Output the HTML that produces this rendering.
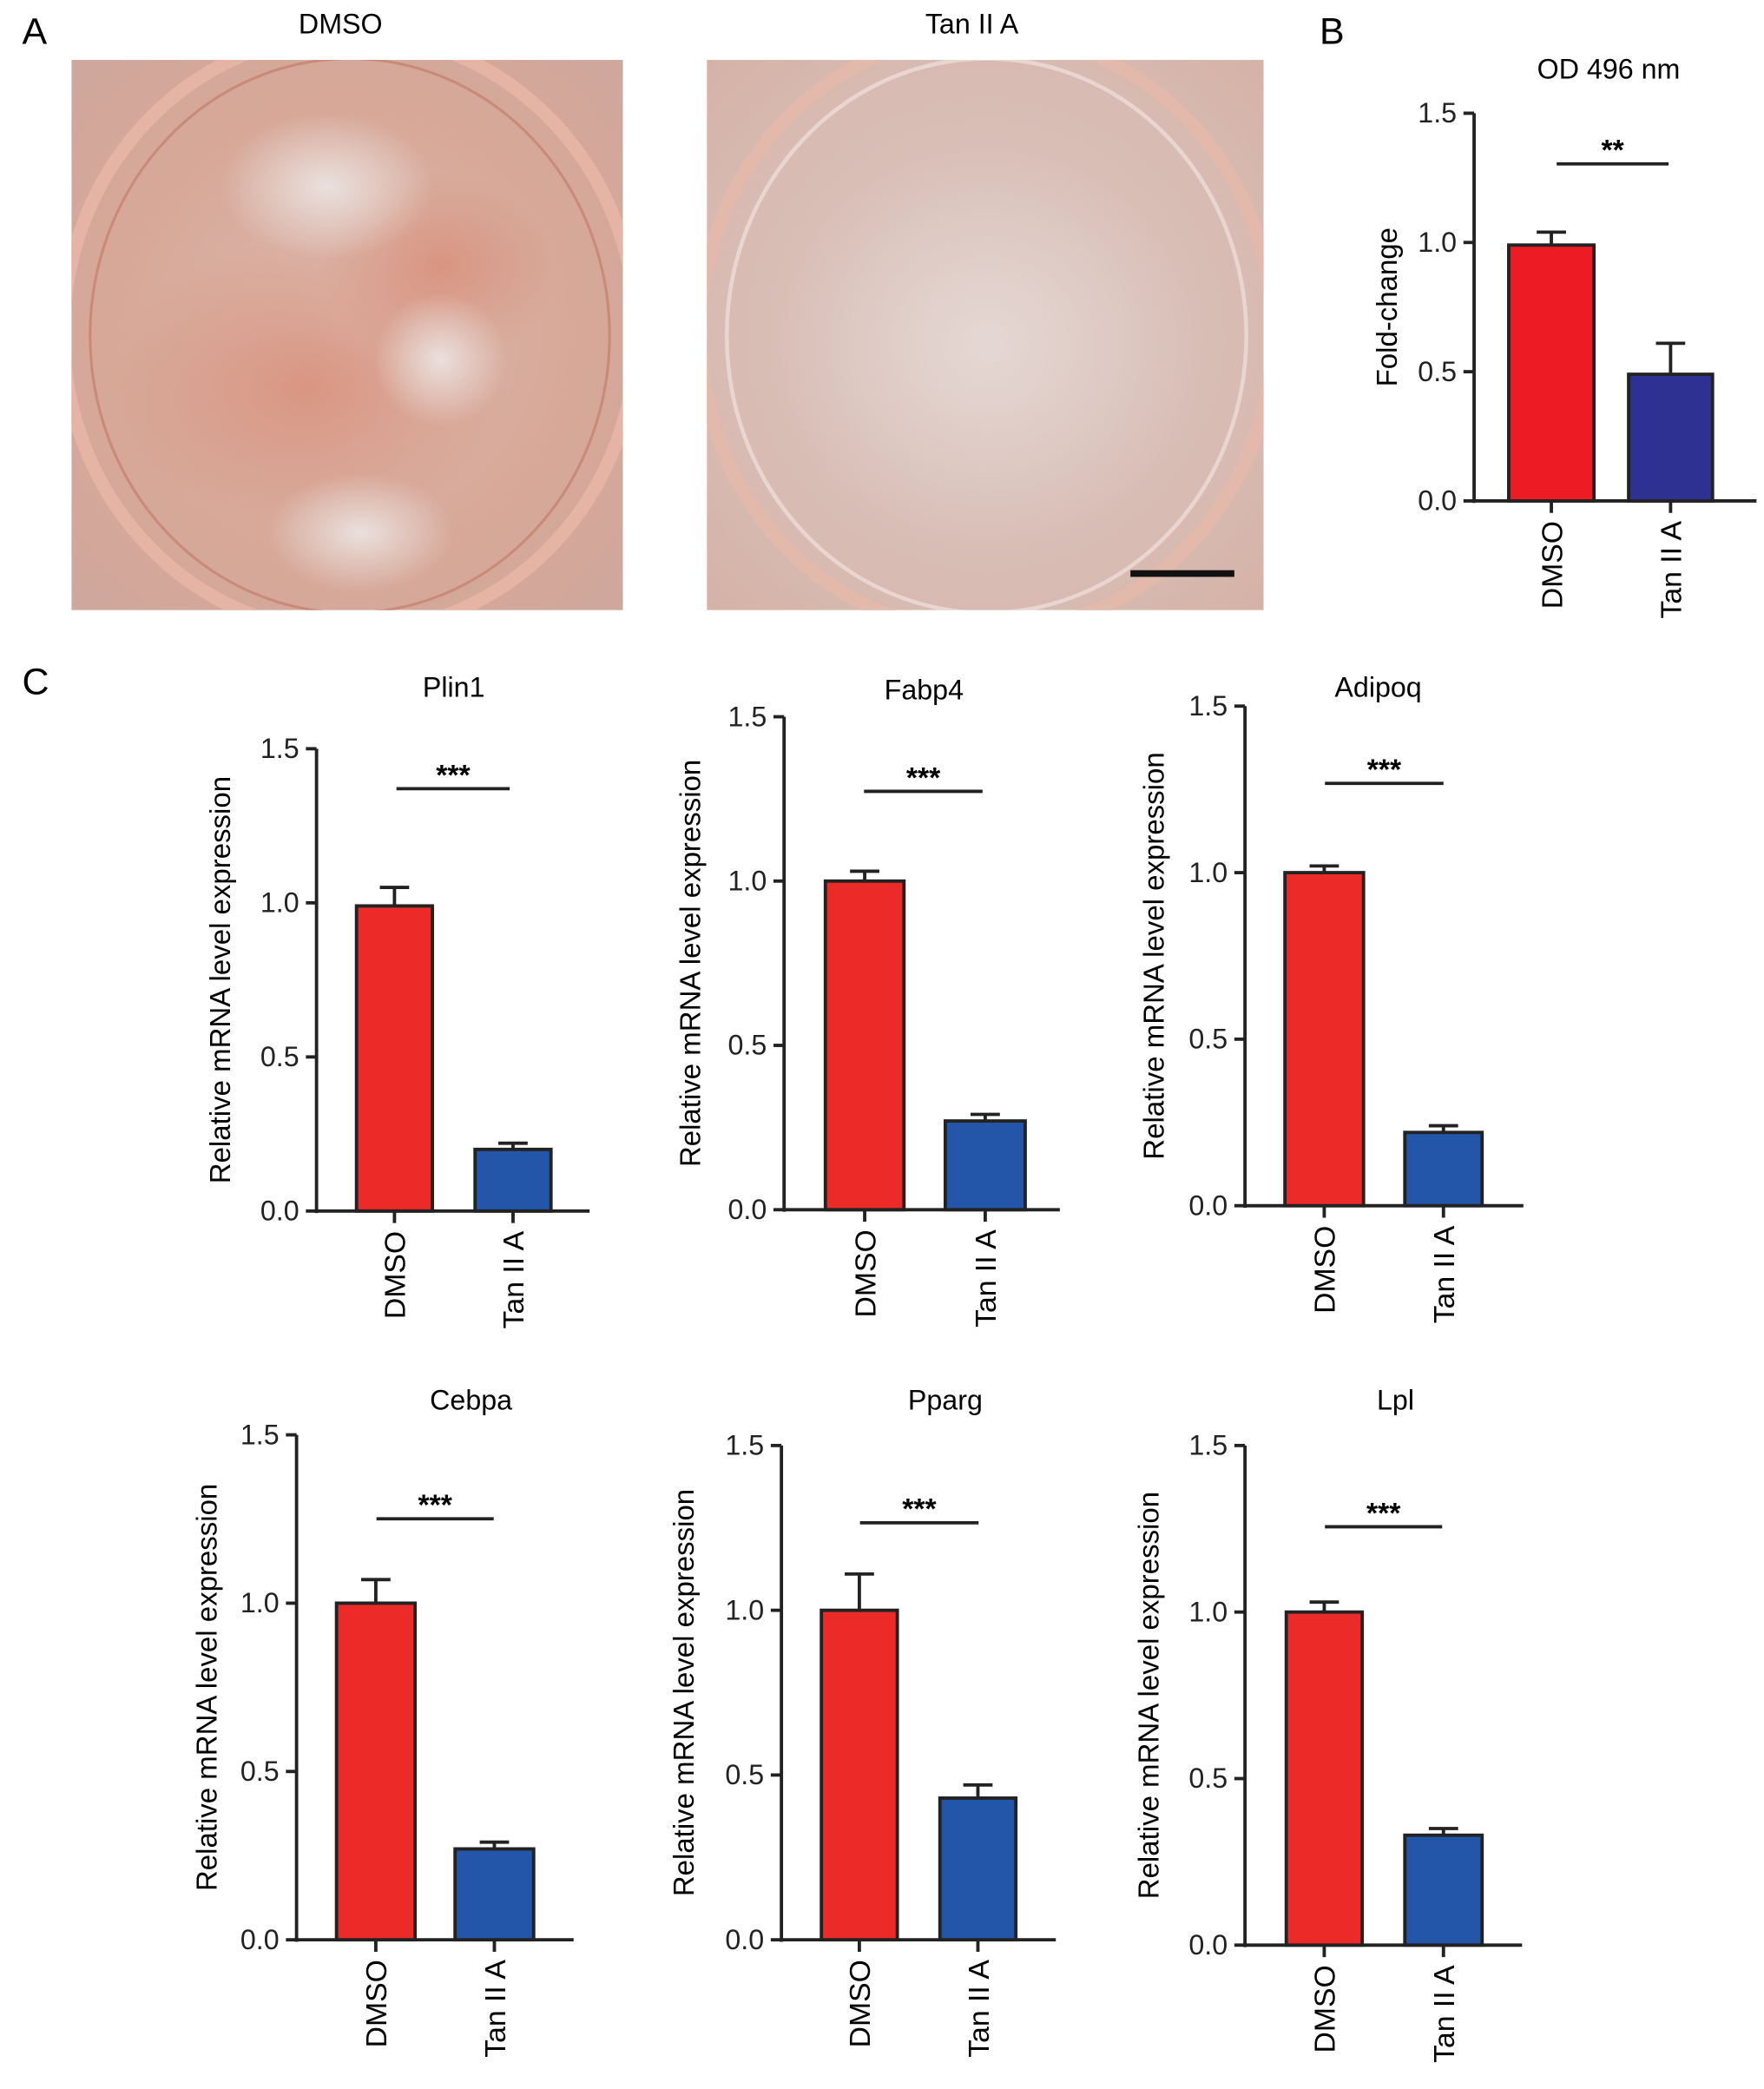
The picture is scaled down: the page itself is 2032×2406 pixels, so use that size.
<!DOCTYPE html>
<html><head><meta charset="utf-8"><style>
html,body{margin:0;padding:0;background:#fff;}
svg{display:block;font-family:"Liberation Sans",Arial,sans-serif;}
</style></head><body>
<svg id="fig" width="2032" height="2406" viewBox="0 0 1323 1568" xmlns="http://www.w3.org/2000/svg">
<defs>
<radialGradient id="dmsoBg" cx="50%" cy="50%" r="70%">
<stop offset="0" stop-color="#dcb8ad"/><stop offset="0.6" stop-color="#d7a898"/><stop offset="1" stop-color="#cfa79c"/>
</radialGradient>
<radialGradient id="tanBg" cx="50%" cy="50%" r="70%">
<stop offset="0" stop-color="#dcc6c0"/><stop offset="0.65" stop-color="#d8bcb4"/><stop offset="1" stop-color="#d5b2a6"/>
</radialGradient>
<radialGradient id="stain" cx="50%" cy="50%" r="50%">
<stop offset="0" stop-color="#d98e78" stop-opacity="0.8"/><stop offset="1" stop-color="#d98e78" stop-opacity="0"/>
</radialGradient>
<radialGradient id="clear" cx="50%" cy="50%" r="50%">
<stop offset="0" stop-color="#ece6e4" stop-opacity="0.9"/><stop offset="1" stop-color="#ece6e4" stop-opacity="0"/>
</radialGradient>
<clipPath id="clipA"><rect x="53" y="45" width="414" height="413"/></clipPath>
<clipPath id="clipB"><rect x="530" y="45" width="418" height="413"/></clipPath>
</defs>

<text x="16" y="33" font-size="28">A</text>
<text x="255" y="25" font-size="21" text-anchor="middle">DMSO</text>
<text x="729" y="25" font-size="21" text-anchor="middle">Tan II A</text>

<g clip-path="url(#clipA)">
<rect x="53" y="45" width="414" height="413" fill="url(#dmsoBg)"/>
<ellipse cx="262" cy="250" rx="215" ry="225" fill="none" stroke="#e6b4a4" stroke-width="10"/>
<ellipse cx="262" cy="252" rx="195" ry="208" fill="none" stroke="#c98a78" stroke-width="2"/>
<ellipse cx="230" cy="290" rx="150" ry="110" fill="url(#stain)"/>
<ellipse cx="330" cy="200" rx="90" ry="70" fill="url(#stain)"/>
<ellipse cx="245" cy="140" rx="80" ry="55" fill="url(#clear)"/>
<ellipse cx="270" cy="400" rx="70" ry="45" fill="url(#clear)"/>
<ellipse cx="330" cy="270" rx="50" ry="50" fill="url(#clear)"/>
</g>
<g clip-path="url(#clipB)">
<rect x="530" y="45" width="418" height="413" fill="url(#tanBg)"/>
<ellipse cx="740" cy="250" rx="215" ry="225" fill="none" stroke="#e3b9ab" stroke-width="10"/>
<ellipse cx="740" cy="252" rx="195" ry="208" fill="none" stroke="#e9d6d0" stroke-width="3"/>
<ellipse cx="740" cy="260" rx="160" ry="150" fill="url(#clear)" opacity="0.6"/>
<rect x="848" y="428" width="78" height="5" fill="#111"/>
</g>

<text x="990" y="33" font-size="28">B</text>
<text x="16" y="521" font-size="28">C</text>

<g id="charts"></g>
</svg>
<script>
// Panel B data
const bCategories = ["DMSO", "Tan II A"];
const bMeans = [0.99, 0.49];
const bErrors = [0.05, 0.12];
// Panel C data
const cGenes = ["Plin1", "Fabp4", "Adipoq", "Cebpa", "Pparg", "Lpl"];
const cDmsoMeans = [0.99, 1.0, 1.0, 1.0, 1.0, 1.0];
const cDmsoErrors = [0.06, 0.03, 0.02, 0.07, 0.11, 0.03];
const cTanMeans = [0.20, 0.27, 0.22, 0.27, 0.43, 0.33];
const cTanErrors = [0.02, 0.02, 0.02, 0.02, 0.04, 0.02];
const cSig = ["***", "***", "***", "***", "***", "***"];
const yTicks = [0.0, 0.5, 1.0, 1.5];
const yTickLabels = ["0.0", "0.5", "1.0", "1.5"];

const NS = "http://www.w3.org/2000/svg";
const root = document.getElementById('charts');
function mk(tag, attrs, parent, text) {
  const e = document.createElementNS(NS, tag);
  for (const k in attrs) e.setAttribute(k, attrs[k]);
  if (text !== undefined) e.textContent = text;
  (parent || root).appendChild(e);
  return e;
}

function chart(cfg) {
  const g = mk('g', {});
  
  
  const y = v => cfg.y0 + (cfg.y15 - cfg.y0) * (v / 1.5);
  const t = mk('text', {x: cfg.titleX, y: cfg.titleY, 'font-size': 21, 'text-anchor': 'middle'}, g, cfg.title);
  
  
  const ya = mk('line', {x1: cfg.ax, x2: cfg.ax, y1: y(1.5), y2: y(0) + 1.5, stroke: '#222', 'stroke-width': 2.5}, g);
  
  
  const xa = mk('line', {x1: cfg.ax, x2: cfg.axEnd, y1: y(0), y2: y(0), stroke: '#222', 'stroke-width': 2.5}, g);
  
  
  yTicks.forEach((v, i) => {
    mk('line', {x1: cfg.ax - 8, x2: cfg.ax, y1: y(v), y2: y(v), stroke: '#222', 'stroke-width': 2.5}, g);
    const tl = mk('text', {x: cfg.ax - 13, y: y(v) + 7, 'font-size': 21, 'text-anchor': 'end', fill: '#222'}, g, yTickLabels[i]);
    
    
  });
  const yl = mk('text', {x: 0, y: 0, 'font-size': 21.5, 'text-anchor': 'middle', transform: `translate(${cfg.ylX},${(y(0) + y(1.5)) / 2}) rotate(-90)`}, g, cfg.yLabel);
  
  
  cfg.means.forEach((m, i) => {
    const x0 = cfg.bars[i][0], x1 = cfg.bars[i][1], cx = (x0 + x1) / 2;
    const top = y(cfg.means[i] + cfg.errs[i]);
    mk('line', {x1: cx, x2: cx, y1: y(m), y2: top, stroke: '#222', 'stroke-width': 2.5}, g);
    mk('line', {x1: cx - 11, x2: cx + 11, y1: top, y2: top, stroke: '#222', 'stroke-width': 2.5}, g);
    const b = mk('rect', {x: x0, y: y(m), width: x1 - x0, height: y(0) - y(m), fill: cfg.colors[i], stroke: '#222', 'stroke-width': 2.5}, g);
    
    
    mk('line', {x1: cx, x2: cx, y1: y(0), y2: y(0) + 9, stroke: '#222', 'stroke-width': 2.5}, g);
    const xl = mk('text', {x: 0, y: 0, 'font-size': 22, 'text-anchor': 'end', transform: `translate(${cx + 8},${y(0) + 15}) rotate(-90)`}, g, cfg.cats[i]);
    
    
  });
  const sl = mk('line', {x1: cfg.sig[0], x2: cfg.sig[1], y1: cfg.sigY, y2: cfg.sigY, stroke: '#222', 'stroke-width': 2.5}, g);
  
  
  const st = mk('text', {x: (cfg.sig[0] + cfg.sig[1]) / 2, y: cfg.sigY - 3, 'font-size': 22, 'font-weight': 'bold', 'text-anchor': 'middle'}, g, cfg.sigText);
  
  
}

chart({name: 'chart-od496', title: 'OD 496 nm', titleX: 1207, titleY: 59, ax: 1106, axEnd: 1318, y15: 85, y0: 376,
  ylX: 1048, yLabel: 'Fold-change', cats: bCategories, means: bMeans, errs: bErrors,
  bars: [[1132, 1196], [1222, 1285]], colors: ['#ed1c24', '#2e3192'], sig: [1168, 1252], sigY: 123, sigText: '**'});

const layouts = [
  {titleX: 340, titleY: 523, ax: 237, axEnd: 442, y15: 562, y0: 909, ylX: 172, bars: [[267, 324], [356, 413]], sig: [297, 382], sigY: 592},
  {titleX: 693, titleY: 525, ax: 588, axEnd: 795, y15: 538, y0: 908, ylX: 525, bars: [[619, 678], [709, 769]], sig: [648, 737], sigY: 594},
  {titleX: 1034, titleY: 523, ax: 934, axEnd: 1143, y15: 530, y0: 905, ylX: 873, bars: [[964, 1023], [1054, 1112]], sig: [994, 1083], sigY: 588},
  {titleX: 353, titleY: 1058, ax: 222, axEnd: 430, y15: 1077, y0: 1456, ylX: 162, bars: [[252, 311], [341, 400]], sig: [282, 370], sigY: 1140},
  {titleX: 709, titleY: 1058, ax: 586, axEnd: 792, y15: 1085, y0: 1456, ylX: 520, bars: [[616, 673], [705, 762]], sig: [645, 734], sigY: 1143},
  {titleX: 1047, titleY: 1058, ax: 934, axEnd: 1142, y15: 1085, y0: 1460, ylX: 869, bars: [[965, 1022], [1054, 1112]], sig: [994, 1082], sigY: 1146}
];
cGenes.forEach((gene, i) => {
  const L = layouts[i];
  chart(Object.assign({}, L, {name: 'chart-' + gene.toLowerCase(), title: gene, yLabel: 'Relative mRNA level expression',
    cats: bCategories, means: [cDmsoMeans[i], cTanMeans[i]], errs: [cDmsoErrors[i], cTanErrors[i]],
    colors: ['#ec2a27', '#2356a8'], sigText: cSig[i]}));
});
</script>
</body></html>
